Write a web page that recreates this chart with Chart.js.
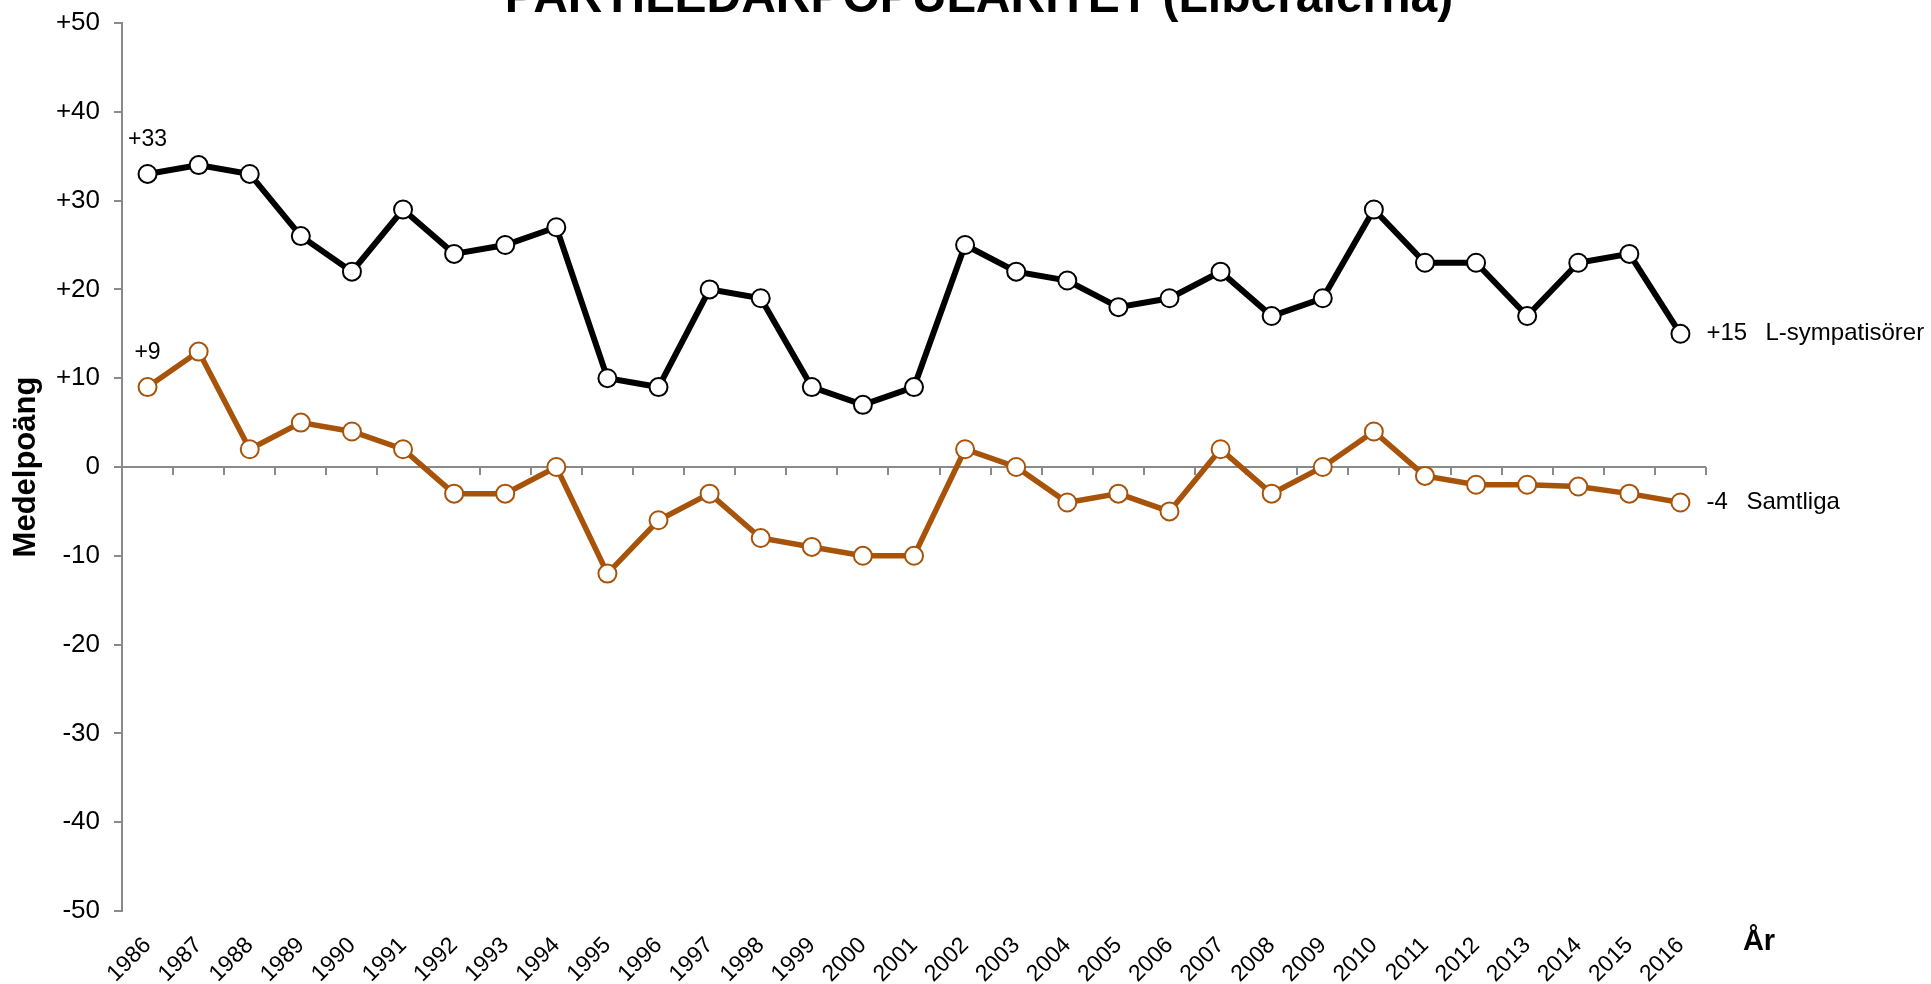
<!DOCTYPE html>
<html>
<head>
<meta charset="utf-8">
<script src="https://cdn.jsdelivr.net/npm/chart.js@4"></script>
<style>
html,body{margin:0;padding:0;background:#fff;}
#wrap{width:1931px;height:984px;position:relative;}
</style>
</head>
<body>
<div id="wrap"><canvas id="c" width="1931" height="984"></canvas></div>
<script>
const years = ['1986','1987','1988','1989','1990','1991','1992','1993','1994','1995','1996','1997','1998','1999','2000','2001','2002','2003','2004','2005','2006','2007','2008','2009','2010','2011','2012','2013','2014','2015','2016'];
const lSympatisorer = [33,34,33,26,22,29,24,25,27,10,9,20,19,9,7,9,25,22,21,18,19,22,17,19,29,23,23,17,23,24,15];
const samtliga = [9,13,2,5,4,2,-3,-3,0,-12,-6,-3,-8,-9,-10,-10,2,0,-4,-3,-5,2,-3,0,4,-1,-2,-2,-2.2,-3,-4];
const yTickValues = [50,40,30,20,10,0,-10,-20,-30,-40,-50];
const yTickLabels = ['+50','+40','+30','+20','+10','0','-10','-20','-30','-40','-50'];
const seriesNames = ['L-sympatisörer','Samtliga'];
const firstLabels = ['+33','+9'];
const lastLabels = ['+15','-4'];
const titleText = 'PARTILEDARPOPULARITET (Liberalerna)';
const yTitle = 'Medelpoäng';
const xTitle = 'År';

const FONT = "'Liberation Sans', Arial, sans-serif";
const BLACK = '#000000';
const ORANGE = '#A8530A';
const AXIS = '#8A8A8A';

const deco = {
  id: 'deco',
  beforeDatasetsDraw(chart) {
    const ctx = chart.ctx, xs = chart.scales.x, ys = chart.scales.y, ca = chart.chartArea;
    const y0 = ys.getPixelForValue(0);
    ctx.save();
    ctx.strokeStyle = AXIS;
    ctx.lineWidth = 2;
    ctx.beginPath();
    ctx.moveTo(ca.left, y0);
    ctx.lineTo(ca.right, y0);
    for (let i = 0; i <= years.length; i++) {
      const bx = Math.round(xs.getPixelForValue(i - 0.5));
      ctx.moveTo(bx, y0);
      ctx.lineTo(bx, y0 + 8);
    }
    ctx.stroke();
    ctx.restore();
  },
  afterDraw(chart) {
    const ctx = chart.ctx, xs = chart.scales.x, ys = chart.scales.y, ca = chart.chartArea;
    ctx.save();
    ctx.fillStyle = '#000';
    // title
    ctx.font = 'bold 48px ' + FONT;
    ctx.textAlign = 'center';
    ctx.textBaseline = 'alphabetic';
    ctx.fillText(titleText, 979, 12);
    // x axis title
    ctx.font = 'bold 29px ' + FONT;
    ctx.textAlign = 'center';
    ctx.textBaseline = 'middle';
    ctx.fillText(xTitle, ca.right + 53, ca.bottom + 31);
    // point labels
    const series = [lSympatisorer, samtliga];
    series.forEach((arr, k) => {
      const px = xs.getPixelForValue(0);
      const py = ys.getPixelForValue(arr[0]);
      ctx.font = '23px ' + FONT;
      ctx.textAlign = 'center';
      ctx.textBaseline = 'middle';
      ctx.fillText(firstLabels[k], px, py - 34);
      const n = arr.length - 1;
      const lx = xs.getPixelForValue(n);
      const ly = ys.getPixelForValue(arr[n]);
      ctx.font = '24px ' + FONT;
      ctx.textAlign = 'left';
      ctx.fillText(lastLabels[k], lx + 26, ly);
      ctx.fillText(seriesNames[k], lx + (k === 0 ? 85 : 66), ly);
    });
    ctx.restore();
  }
};

new Chart(document.getElementById('c'), {
  type: 'line',
  data: {
    labels: years,
    datasets: [
      {
        label: seriesNames[0],
        data: lSympatisorer,
        borderColor: BLACK,
        borderWidth: 6,
        pointRadius: 9,
        pointBorderWidth: 2,
        pointBackgroundColor: '#fff',
        pointBorderColor: BLACK,
        tension: 0,
        order: 2
      },
      {
        label: seriesNames[1],
        data: samtliga,
        borderColor: ORANGE,
        borderWidth: 5.5,
        pointRadius: 9,
        pointBorderWidth: 2,
        pointBackgroundColor: '#fff',
        pointBorderColor: ORANGE,
        tension: 0,
        order: 1
      }
    ]
  },
  options: {
    responsive: false,
    animation: false,
    devicePixelRatio: 1,
    layout: { padding: { top: 23, right: 225, left: 0, bottom: 0 } },
    plugins: { legend: { display: false }, tooltip: { enabled: false }, title: { display: false } },
    scales: {
      x: {
        type: 'category',
        offset: true,
        grid: { display: false, drawTicks: false },
        border: { display: false },
        afterFit(s) { s.height = 73; s.paddingLeft = 0; s.paddingRight = 0; },
        ticks: {
          autoSkip: false,
          maxRotation: 45,
          minRotation: 45,
          padding: 21,
          color: '#000',
          font: { family: FONT, size: 23 }
        }
      },
      y: {
        min: -50,
        max: 50,
        afterFit(s) { s.width = 122; s.paddingTop = 0; s.paddingBottom = 0; },
        afterBuildTicks(s) { s.ticks = yTickValues.map(v => ({ value: v })); },
        border: { display: true, color: AXIS, width: 2 },
        grid: { drawOnChartArea: false, drawTicks: true, tickLength: 8, color: AXIS, lineWidth: 2 },
        ticks: {
          padding: 14,
          color: '#000',
          font: { family: FONT, size: 26 },
          callback(v) { const i = yTickValues.indexOf(v); return i >= 0 ? yTickLabels[i] : ''; }
        },
        title: {
          display: true,
          text: yTitle,
          color: '#000',
          font: { family: FONT, size: 31, weight: 'bold' },
          padding: { top: 8, bottom: 0 }
        }
      }
    }
  },
  plugins: [deco]
});
</script>
</body>
</html>
